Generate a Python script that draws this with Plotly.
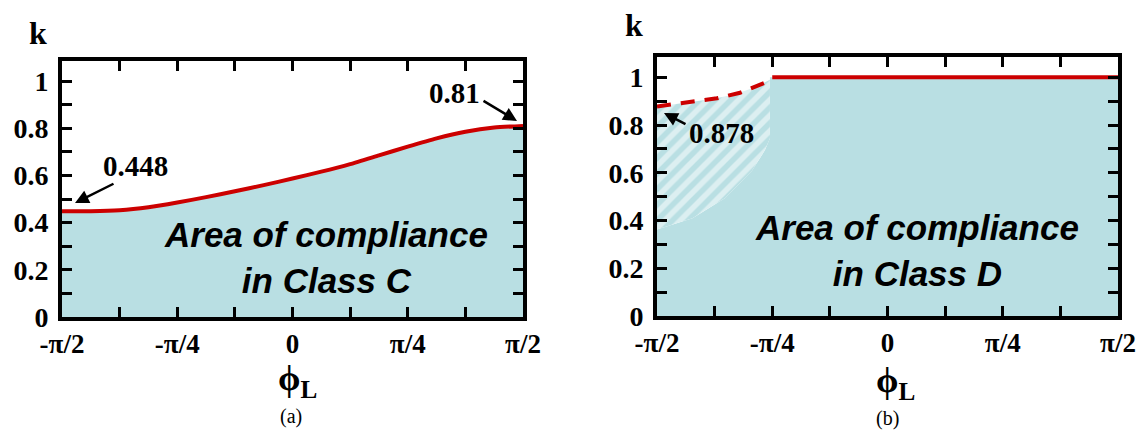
import math
import plotly.graph_objects as go

PI = math.pi

# ---------------- data ----------------
# panel (a): phi_L in multiples of pi, k limit (Class C)
phi_a_frac = [-0.5, -0.4375, -0.375, -0.3125, -0.25, -0.1875, -0.125, -0.0625, 0.0,
              0.0625, 0.125, 0.1875, 0.25, 0.3125, 0.375, 0.4375, 0.5]
k_a = [0.448, 0.448, 0.452, 0.465, 0.485, 0.508, 0.533, 0.559, 0.587,
       0.616, 0.648, 0.685, 0.722, 0.757, 0.785, 0.803, 0.81]

# panel (b): dashed boundary (phi in multiples of pi)
phi_b_dash_frac = [-0.5, -0.43, -0.37, -0.32, -0.28, -0.25]
k_b_dash = [0.878, 0.895, 0.912, 0.935, 0.965, 0.99]
# panel (b): solid boundary
phi_b_solid_frac = [-0.25, 0.5]
k_b_solid = [1.0, 1.0]
# panel (b): lower edge of the hatched region
phi_b_hatch_frac = [-0.5, -0.423, -0.352, -0.294, -0.266, -0.255]
k_b_hatch = [0.362, 0.409, 0.494, 0.609, 0.694, 0.745]

x_tick_frac = [-0.5, -0.375, -0.25, -0.125, 0.0, 0.125, 0.25, 0.375, 0.5]
x_tick_text = ["-π/2", "", "-π/4", "", "0", "", "π/4", "", "π/2"]
y_tick_vals = [0, 0.1, 0.2, 0.3, 0.4, 0.5, 0.6, 0.7, 0.8, 0.9, 1.0]
y_tick_text = ["0", "", "0.2", "", "0.4", "", "0.6", "", "0.8", "", "1"]

# ---------------- style ----------------
CYAN = "#B9DFE3"
RED = "#CC0000"
SERIF = "Liberation Serif"
SANS = "Liberation Sans"
W, H = 1145, 432

phi_a = [f * PI for f in phi_a_frac]
phi_bd = [f * PI for f in phi_b_dash_frac]
phi_bs = [f * PI for f in phi_b_solid_frac]
phi_bh = [f * PI for f in phi_b_hatch_frac]
x_tick_vals = [f * PI for f in x_tick_frac]

fig = go.Figure()

# ---- panel (a)
fig.add_trace(go.Scatter(x=phi_a, y=k_a, mode="lines", fill="tozeroy", fillcolor=CYAN,
                         line=dict(color=RED, width=4, shape="spline", smoothing=0.6),
                         xaxis="x", yaxis="y", showlegend=False, hoverinfo="skip"))

# ---- panel (b): solid cyan area (below hatch + right region)
cx = phi_bh + [phi_bh[-1], phi_bs[-1]]
cy = k_b_hatch + [k_b_solid[0], k_b_solid[-1]]
fig.add_trace(go.Scatter(x=cx, y=cy, mode="lines", fill="tozeroy", fillcolor=CYAN,
                         line=dict(width=0, color=CYAN), xaxis="x2", yaxis="y2",
                         showlegend=False, hoverinfo="skip"))
# hatched region
hx = phi_bh + [phi_bh[-1]] + phi_bd[::-1][1:] + [phi_bh[0]]
hy = k_b_hatch + [k_b_dash[-1]] + k_b_dash[::-1][1:] + [k_b_hatch[0]]
fig.add_trace(go.Scatter(x=hx, y=hy, mode="lines", fill="toself", fillcolor=CYAN,
                         fillpattern=dict(shape="/", fgcolor="white", bgcolor=CYAN,
                                          size=11, solidity=0.5),
                         line=dict(width=0, color=CYAN), xaxis="x2", yaxis="y2",
                         showlegend=False, hoverinfo="skip"))
# boundaries
fig.add_trace(go.Scatter(x=phi_bd, y=k_b_dash, mode="lines",
                         line=dict(color=RED, width=4, dash="14px,10px"),
                         xaxis="x2", yaxis="y2", showlegend=False, hoverinfo="skip"))
fig.add_trace(go.Scatter(x=phi_bs, y=k_b_solid, mode="lines",
                         line=dict(color=RED, width=4),
                         xaxis="x2", yaxis="y2", showlegend=False, hoverinfo="skip"))

xt_bold = ["<b>%s</b>" % t if t else "" for t in x_tick_text]
yt_bold = ["<b>%s</b>" % t if t else "" for t in y_tick_text]


def xaxis(domain, anchor):
    return dict(domain=domain, range=[-PI / 2, PI / 2], tickmode="array",
                tickvals=x_tick_vals, ticktext=xt_bold, ticks="inside",
                ticklen=10, tickwidth=3, tickcolor="#000000", showline=True,
                linewidth=4, linecolor="black", mirror="ticks", showgrid=False,
                zeroline=False, automargin=False, anchor=anchor, layer="above traces",
                tickfont=dict(family=SERIF, size=27, color="black"))


def yaxis(domain, anchor):
    return dict(domain=domain, range=[0, 1.085], tickmode="array",
                tickvals=y_tick_vals, ticktext=yt_bold, ticks="inside",
                ticklen=10, tickwidth=3, tickcolor="#000000", showline=True,
                linewidth=4, linecolor="black", mirror="ticks", showgrid=False,
                zeroline=False, automargin=False, anchor=anchor, layer="above traces",
                ticklabelstandoff=4,
                tickfont=dict(family=SERIF, size=28, color="black"))


fig.update_layout(
    width=W, height=H, margin=dict(l=0, r=0, t=0, b=0, autoexpand=False),
    paper_bgcolor="white", plot_bgcolor="white",
    xaxis=xaxis([62 / W, 523 / W], "y"),
    yaxis=yaxis([1 - 317 / H, 1 - 61 / H], "x"),
    xaxis2=xaxis([657 / W, 1118 / W], "y2"),
    yaxis2=yaxis([1 - 316 / H, 1 - 57 / H], "x2"),
)


def txt(x, y, s, size, family=SERIF, color="black"):
    fig.add_annotation(xref="paper", yref="paper", x=x / W, y=1 - y / H, text=s,
                       showarrow=False, xanchor="center", yanchor="middle",
                       font=dict(family=family, size=size, color=color))


def arrow(tx, ty, tailx, taily):
    fig.add_annotation(xref="paper", yref="paper", x=tx / W, y=1 - ty / H, text="",
                       showarrow=True, ax=tailx - tx, ay=taily - ty,
                       arrowhead=2, arrowsize=1.1, arrowwidth=2.5, arrowcolor="black")


# axis titles
txt(38, 33, "<b>k</b>", 32)
txt(634, 25, "<b>k</b>", 32)
txt(297, 380, "<b>ϕ<sub>L</sub></b>", 36)
txt(895, 382, "<b>ϕ<sub>L</sub></b>", 36)
txt(291, 416, "(a)", 20)
txt(887, 418, "(b)", 20)

# value annotations
txt(135, 166, "<b>0.448</b>", 29)
arrow(75, 203, 115, 183)
txt(454, 93, "<b>0.81</b>", 29)
arrow(517, 121, 482, 100)
txt(721, 133, "<b>0.878</b>", 29)
arrow(664, 113, 687, 125)

# area labels
txt(326, 257, "<b><i>Area of compliance<br>in Class C</i></b>", 35, SANS)
txt(917, 250, "<b><i>Area of compliance<br>in Class D</i></b>", 35, SANS)

fig.write_html("out.html")
